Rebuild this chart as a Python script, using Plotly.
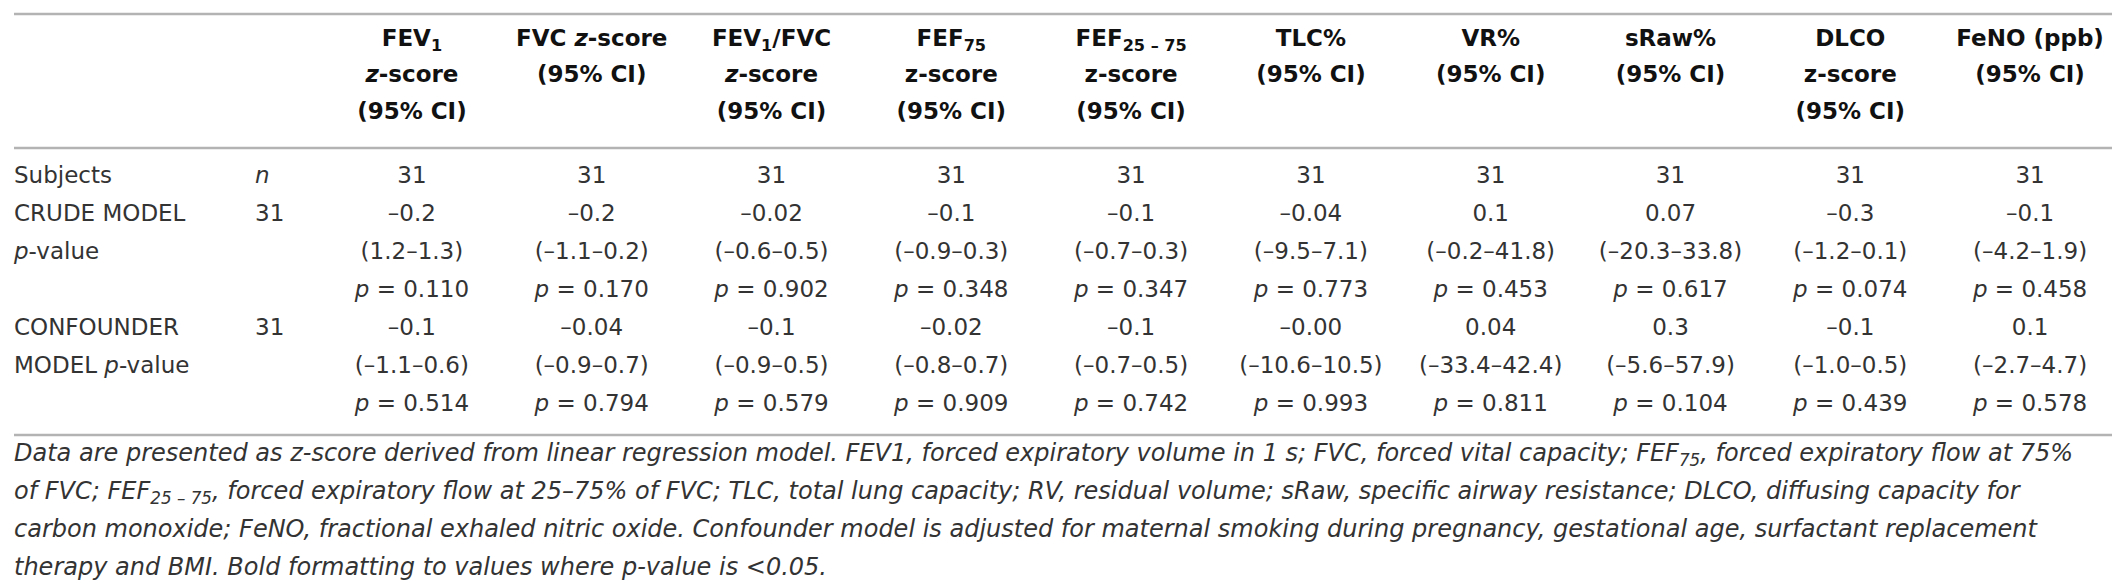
import plotly.graph_objects as go

# header lines per data column (3 stacked lines)
header_top = ["FEV<sub>1</sub>", "FVC <i>z</i>-score", "FEV<sub>1</sub>/FVC", "FEF<sub>75</sub>",
              "FEF<sub>25 – 75</sub>", "TLC%", "VR%", "sRaw%", "DLCO", "FeNO (ppb)"]
header_mid = ["<i>z</i>-score", "(95% CI)", "<i>z</i>-score", "z-score",
              "z-score", "(95% CI)", "(95% CI)", "(95% CI)", "z-score", "(95% CI)"]
header_bot = ["(95% CI)", "", "(95% CI)", "(95% CI)",
              "(95% CI)", "", "", "", "(95% CI)", ""]

row_labels = ["Subjects", "CRUDE MODEL", "<i>p</i>-value", "", "CONFOUNDER", "MODEL <i>p</i>-value", ""]
n_col = ["<i>n</i>", "31", "", "", "31", "", ""]

subjects = [31, 31, 31, 31, 31, 31, 31, 31, 31, 31]
crude_est = ["–0.2", "–0.2", "–0.02", "–0.1", "–0.1", "–0.04", "0.1", "0.07", "–0.3", "–0.1"]
crude_ci = ["(1.2–1.3)", "(–1.1–0.2)", "(–0.6–0.5)", "(–0.9–0.3)", "(–0.7–0.3)", "(–9.5–7.1)",
            "(–0.2–41.8)", "(–20.3–33.8)", "(–1.2–0.1)", "(–4.2–1.9)"]
crude_p = ["0.110", "0.170", "0.902", "0.348", "0.347", "0.773", "0.453", "0.617", "0.074", "0.458"]
conf_est = ["–0.1", "–0.04", "–0.1", "–0.02", "–0.1", "–0.00", "0.04", "0.3", "–0.1", "0.1"]
conf_ci = ["(–1.1–0.6)", "(–0.9–0.7)", "(–0.9–0.5)", "(–0.8–0.7)", "(–0.7–0.5)", "(–10.6–10.5)",
           "(–33.4–42.4)", "(–5.6–57.9)", "(–1.0–0.5)", "(–2.7–4.7)"]
conf_p = ["0.514", "0.794", "0.579", "0.909", "0.742", "0.993", "0.811", "0.104", "0.439", "0.578"]

footnote = [
    "Data are presented as z-score derived from linear regression model. FEV1, forced expiratory volume in 1 s; "
    "FVC, forced vital capacity; FEF<sub>75</sub>, forced expiratory flow at 75%",
    "of FVC; FEF<sub>25 – 75</sub>, forced expiratory flow at 25–75% of FVC; TLC, total lung capacity; "
    "RV, residual volume; sRaw, specific airway resistance; DLCO, diffusing capacity for",
    "carbon monoxide; FeNO, fractional exhaled nitric oxide. Confounder model is adjusted for maternal smoking "
    "during pregnancy, gestational age, surfactant replacement",
    "therapy and BMI. Bold formatting to values where p-value is &lt;0.05.",
]

W, H = 2120, 584
FONT = "DejaVu Sans"
TXT = "#333333"

# layout of the grid (pixel units on both axes)
label_x, n_x = 6, 247
first_col, col_w = 314, 179.8
col_x = [first_col + col_w * (i + 0.5) for i in range(10)]
head_y = [32 + 36.5 * i for i in range(3)]
body_y = [169 + 38 * i for i in range(7)]
foot_y = [447 + 38 * i for i in range(4)]

fig = go.Figure()

# header
hx, hy, ht = [], [], []
for j, lines in enumerate([header_top, header_mid, header_bot]):
    for i, t in enumerate(lines):
        if t:
            hx.append(col_x[i])
            hy.append(head_y[j])
            ht.append(f"<b>{t}</b>")
fig.add_trace(go.Scatter(x=hx, y=hy, text=ht, mode="text", textposition="middle center",
                         textfont=dict(family=FONT, size=23, color="#111111"), hoverinfo="skip"))

# row labels and n column
lx, ly, lt = [], [], []
for j, (a, b) in enumerate(zip(row_labels, n_col)):
    if a:
        lx.append(label_x)
        ly.append(body_y[j])
        lt.append(a)
    if b:
        lx.append(n_x)
        ly.append(body_y[j])
        lt.append(b)
fig.add_trace(go.Scatter(x=lx, y=ly, text=lt, mode="text", textposition="middle right",
                         textfont=dict(family=FONT, size=23, color=TXT), hoverinfo="skip"))

# body values
bx, by, bt = [], [], []
for i in range(10):
    cells = [str(subjects[i]), crude_est[i], crude_ci[i], f"<i>p</i> = {crude_p[i]}",
             conf_est[i], conf_ci[i], f"<i>p</i> = {conf_p[i]}"]
    for j, t in enumerate(cells):
        bx.append(col_x[i])
        by.append(body_y[j])
        bt.append(t)
fig.add_trace(go.Scatter(x=bx, y=by, text=bt, mode="text", textposition="middle center",
                         textfont=dict(family=FONT, size=23, color=TXT), hoverinfo="skip"))

# footnote
fig.add_trace(go.Scatter(x=[label_x] * len(footnote), y=foot_y, text=[f"<i>{t}</i>" for t in footnote],
                         mode="text", textposition="middle right",
                         textfont=dict(family=FONT, size=24, color=TXT), hoverinfo="skip"))

rule = dict(color="#b3b3b3", width=2.5)
for y_px in [6, 140, 427]:
    fig.add_shape(type="line", xref="x", yref="y", x0=6, x1=2115, y0=y_px, y1=y_px, line=rule)

fig.update_layout(width=W, height=H, margin=dict(l=0, r=0, t=0, b=0), showlegend=False,
                  paper_bgcolor="white", plot_bgcolor="white",
                  xaxis=dict(range=[0, W], visible=False, fixedrange=True),
                  yaxis=dict(range=[H, 0], visible=False, fixedrange=True))
fig.write_html("out.html")
